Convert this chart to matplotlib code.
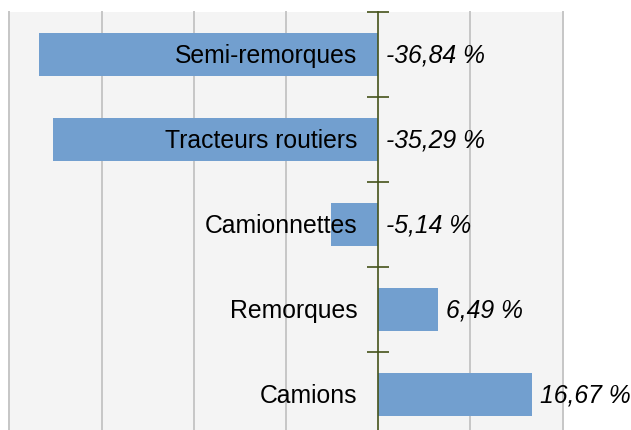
import matplotlib
matplotlib.use("Agg")
import matplotlib.pyplot as plt
import numpy as np

categories = ["Semi-remorques", "Tracteurs routiers", "Camionnettes", "Remorques", "Camions"]
values = [-36.84, -35.29, -5.14, 6.49, 16.67]
value_labels = ["-36,84 %", "-35,29 %", "-5,14 %", "6,49 %", "16,67 %"]
grid_values = [-40, -30, -20, -10, 10, 20]

plt.rcParams['font.family'] = ['Liberation Sans', 'DejaVu Sans']

W, H = 631, 430
fig = plt.figure(figsize=(W / 100, H / 100), dpi=100)
left_px, right_px, top_px, bottom_px = 9.5, 562.5, 12, 437
ax = fig.add_axes([left_px / W, (H - bottom_px) / H,
                   (right_px - left_px) / W, (bottom_px - top_px) / H])
ax.set_facecolor('#f4f4f4')

y = np.arange(len(categories))
ax.set_xlim(-40, 20)
ax.set_ylim(len(categories) - 0.5, -0.5)

for g in grid_values:
    ax.axvline(g, color='#c6c6c6', lw=1.4, zorder=0, clip_on=False)

ax.barh(y, values, height=0.5, color='#729fcf', zorder=2)

olive = '#45531a'
for s in ['top', 'right', 'bottom']:
    ax.spines[s].set_visible(False)
ax.spines['left'].set_position(('data', 0))
ax.spines['left'].set_color(olive)
ax.spines['left'].set_linewidth(1.2)
ax.spines['left'].set_zorder(3)
ax.set_xticks([])
ax.set_yticks(np.arange(-0.5, len(categories), 1.0))
ax.set_yticklabels([])
ax.tick_params(axis='y', direction='inout', length=16, width=1.2, color=olive)

pxu = (right_px - left_px) / 60.0
off_cat = 21 / pxu
off_val = 8 / pxu
for i, (c, v, lab) in enumerate(zip(categories, values, value_labels)):
    ax.text(-off_cat, i + 0.015, c, ha='right', va='center', fontsize=17.8, color='black', zorder=4)
    ax.text(max(v, 0) + off_val, i + 0.015, lab, ha='left', va='center', fontsize=17.8,
            style='italic', color='black', zorder=4, clip_on=False)

fig.savefig('out.png', dpi=100, facecolor='white')
